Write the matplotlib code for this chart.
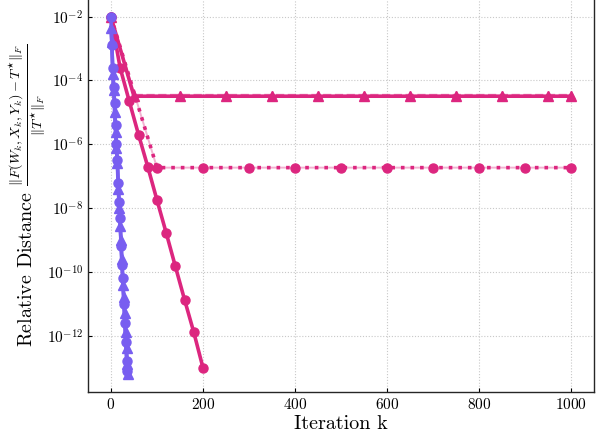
import numpy as np
import matplotlib
matplotlib.use('Agg')
import matplotlib.pyplot as plt
from matplotlib import rcParams

rcParams['font.family'] = 'serif'
rcParams['font.serif'] = ['cmr10']
rcParams['mathtext.fontset'] = 'cm'
rcParams['axes.formatter.use_mathtext'] = True
rcParams['axes.unicode_minus'] = False

pink = '#DC267F'
blue = '#785EF0'

# blue runs (converge within ~40 iterations)
blue_circ_x = [0, 2, 4, 6, 8, 10, 12, 14, 16, 18, 20, 22, 24, 26, 28, 30, 32, 34, 36]
blue_circ_y = [1.0e-2, 1.3e-3, 2.5e-4, 6.3e-5, 2.0e-5, 4.0e-6, 1.0e-6, 3.2e-7, 6.3e-8, 1.6e-8,
               5.0e-9, 6.3e-10, 1.6e-10, 6.3e-11, 1.0e-11, 2.5e-12, 6.3e-13, 1.6e-13, 7.9e-14]
blue_tri_x = [0, 2, 4, 6, 8, 10, 12, 14, 16, 18, 20, 22, 24, 26, 28, 30, 32, 34, 36, 38]
blue_tri_y = [4.5e-3, 1.6e-3, 1.6e-4, 5.0e-5, 1.0e-5, 2.5e-6, 7.9e-7, 2.5e-7, 4.0e-8, 1.0e-8,
              2.8e-9, 1.0e-9, 2.5e-10, 4.0e-11, 1.6e-11, 5.0e-12, 1.3e-12, 4.0e-13, 1.3e-13, 6.3e-14]

# pink runs
pink_circ_x = [0, 20, 40, 60, 80, 100, 120, 140, 160, 180, 200]
pink_circ_y = [1.0e-2, 2.5e-4, 2.2e-5, 2.0e-6, 2.0e-7, 1.8e-8, 1.7e-9, 1.5e-10, 1.35e-11, 1.3e-12, 1.0e-13]

pink_tri_x = [0, 50, 150, 250, 350, 450, 550, 650, 750, 850, 950, 1000]
pink_tri_y = [1.0e-2, 3.2e-5, 3.2e-5, 3.2e-5, 3.2e-5, 3.2e-5, 3.2e-5, 3.2e-5, 3.2e-5, 3.2e-5, 3.2e-5, 3.2e-5]
pink_tri2_y = [1.0e-2, 3.5e-5, 3.5e-5, 3.5e-5, 3.5e-5, 3.5e-5, 3.5e-5, 3.5e-5, 3.5e-5, 3.5e-5, 3.5e-5, 3.5e-5]

pink_dot_x = [0, 100, 200, 300, 400, 500, 600, 700, 800, 900, 1000]
pink_dot_y = [1.0e-2, 1.85e-7, 1.85e-7, 1.85e-7, 1.85e-7, 1.85e-7, 1.85e-7, 1.85e-7, 1.85e-7, 1.85e-7, 1.85e-7]

fig = plt.figure(figsize=(6.02, 4.36), dpi=100)
ax = fig.add_axes([0.146, 0.101, 0.841, 0.902])

ax.plot(pink_dot_x, pink_dot_y, color=pink, lw=1.4, alpha=0.35, zorder=2)
ax.plot(pink_dot_x, pink_dot_y, color=pink, lw=2.6, ls=':', marker='o', ms=6.5, zorder=3)
ax.plot(pink_tri_x, pink_tri_y, color=pink, lw=2.6, marker='^', ms=7, zorder=3)
ax.plot(pink_tri_x, pink_tri2_y, color=pink, lw=1.6, ls='--', alpha=0.6, marker='^', ms=6, zorder=3)
ax.plot(pink_circ_x, pink_circ_y, color=pink, lw=2.6, marker='o', ms=6.5, zorder=3)

ax.plot(blue_tri_x, blue_tri_y, color=blue, lw=2.6, marker='^', ms=6.5, zorder=4)
ax.plot(blue_circ_x, blue_circ_y, color=blue, lw=2.6, marker='o', ms=6.5, zorder=4)

ax.set_yscale('log')
ax.set_yticks([1e-2, 1e-4, 1e-6, 1e-8, 1e-10, 1e-12])
ax.yaxis.set_minor_locator(matplotlib.ticker.NullLocator())
ax.set_xticks([0, 200, 400, 600, 800, 1000])

ax.grid(True, color='#c8c8c8', lw=0.8, dashes=(1, 1.6), zorder=0)
ax.tick_params(direction='in', labelsize=11, length=3, width=0.8)

ax.spines['top'].set_visible(False)
for s in ['left', 'bottom', 'right']:
    ax.spines[s].set_color('0.15')
    ax.spines[s].set_linewidth(1.0)

ax.set_xlabel('Iteration k', fontsize=14.5, labelpad=2)
ax.set_ylabel(r'Relative Distance $\frac{\|F(W_k,X_k,Y_k)-T^{\star}\|_F}{\|T^{\star}\|_F}$',
              fontsize=14.5, labelpad=0)

fig.savefig('out.png', dpi=100)
